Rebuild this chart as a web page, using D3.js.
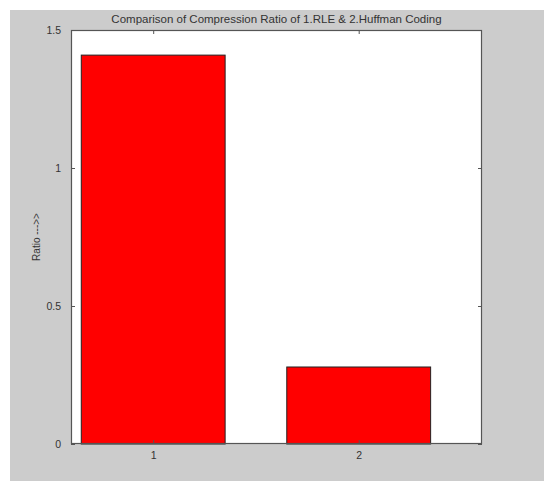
<!DOCTYPE html>
<html>
<head>
<meta charset="utf-8">
<script src="https://cdn.jsdelivr.net/npm/d3@7"></script>
<style>
html,body{margin:0;padding:0;background:#fff;}
svg{display:block;}
text{font-family:"Liberation Sans",Arial,sans-serif;fill:#333;}
</style>
</head>
<body>
<script>
const categories = [1, 2];
const ratios = [1.409, 0.279];
const yTicks = [0, 0.5, 1, 1.5];
const yTickLabels = ["0", "0.5", "1", "1.5"];
const titleText = "Comparison of Compression Ratio of 1.RLE & 2.Huffman Coding";
const yLabelText = "Ratio --->>";

const W = 544, H = 481;
const svg = d3.select("body").append("svg").attr("width", W).attr("height", H);

svg.append("rect").attr("x", 10).attr("y", 10).attr("width", W - 10).attr("height", H - 10).attr("fill", "#cccccc");

const pL = 71, pR = 482, pT = 30, pB = 444;
const x = d3.scaleLinear().domain([0.6, 2.6]).range([pL, pR]);
const y = d3.scaleLinear().domain([0, 1.5]).range([pB, pT]);
const barW = 0.7;

svg.append("rect").attr("x", pL).attr("y", pT).attr("width", pR - pL).attr("height", pB - pT).attr("fill", "#fff");

svg.selectAll("rect.bar").data(categories).enter().append("rect")
  .attr("class", "bar")
  .attr("x", (d) => x(d - barW / 2))
  .attr("width", (d) => x(d + barW / 2) - x(d - barW / 2))
  .attr("y", (d, i) => y(ratios[i]))
  .attr("height", (d, i) => y(0) - y(ratios[i]))
  .attr("fill", "#ff0000")
  .attr("stroke", "#222")
  .attr("stroke-width", 1);

// frame
svg.append("rect").attr("x", pL + 0.5).attr("y", pT + 0.5).attr("width", pR - pL - 1).attr("height", pB - pT - 1)
  .attr("fill", "none").attr("stroke", "#555").attr("stroke-width", 1.2);

const yAxisL = d3.axisLeft(y).tickValues(yTicks).tickFormat((d, i) => yTickLabels[i]).tickSizeInner(-4).tickSizeOuter(0).tickPadding(10);
const gL = svg.append("g").attr("transform", `translate(${pL},0)`).call(yAxisL);
const yAxisR = d3.axisRight(y).tickValues(yTicks).tickFormat("").tickSizeInner(-4).tickSizeOuter(0);
const gR = svg.append("g").attr("transform", `translate(${pR},0)`).call(yAxisR);
const xAxisB = d3.axisBottom(x).tickValues(categories).tickFormat(d3.format("d")).tickSizeInner(-4).tickSizeOuter(0).tickPadding(8);
const gB = svg.append("g").attr("transform", `translate(0,${pB})`).call(xAxisB);
const xAxisT = d3.axisTop(x).tickValues(categories).tickFormat("").tickSizeInner(-4).tickSizeOuter(0);
const gT = svg.append("g").attr("transform", `translate(0,${pT})`).call(xAxisT);
[gL, gR, gB, gT].forEach(g => {
  g.select(".domain").remove();
  g.selectAll(".tick line").attr("stroke", "#555");
  g.selectAll("text").attr("font-size", 10.5).attr("fill", "#333").style("font-family", '"Liberation Sans",Arial,sans-serif');
});

svg.append("text").attr("x", (pL + pR) / 2).attr("y", 23).attr("text-anchor", "middle")
  .attr("font-size", 11.5).text(titleText);

svg.append("text").attr("transform", `translate(40,${(pT + pB) / 2}) rotate(-90)`)
  .attr("text-anchor", "middle").attr("font-size", 10).text(yLabelText);
</script>
</body>
</html>
